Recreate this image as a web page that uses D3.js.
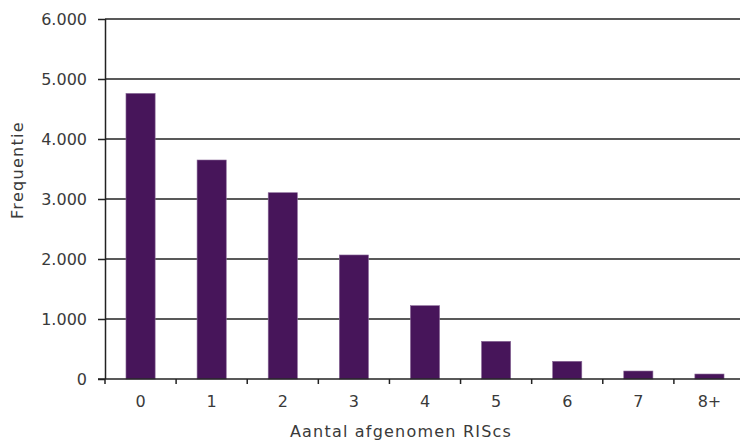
<!DOCTYPE html>
<html><head><meta charset="utf-8">
<script src="https://cdn.jsdelivr.net/npm/d3@7"></script>
<style>body{margin:0;background:#fff}svg{display:block}</style>
</head><body>
<script>
const categories = ["0","1","2","3","4","5","6","7","8+"];
const values = [4760, 3650, 3105, 2067, 1222, 628, 295, 133, 83];
const yTicks = [0,1000,2000,3000,4000,5000,6000];
const yTickLabels = ["0","1.000","2.000","3.000","4.000","5.000","6.000"];
const xTitle = "Aantal afgenomen RIScs";
const yTitle = "Frequentie";

const W = 740, H = 442;
const m = {left:105, top:19, right:-5, bottom:63};
const svg = d3.select("body").append("svg").attr("width",W).attr("height",H);
const font = "DejaVu Sans, Verdana, sans-serif";
const x = d3.scaleBand().domain(categories).range([m.left, W - m.right]).paddingInner(0.59).paddingOuter(0.295);
const xTickScale = d3.scaleLinear().domain([0, categories.length]).range([m.left, W - m.right]);
const y = d3.scaleLinear().domain([0,6000]).range([H - m.bottom, m.top]);

// gridlines
svg.append("g").selectAll("line").data(yTicks.filter(d=>d>0)).join("line")
  .attr("x1", m.left).attr("x2", W).attr("y1", d=>y(d)).attr("y2", d=>y(d))
  .attr("stroke","#222").attr("stroke-width",1.5);

// bars
svg.append("g").selectAll("rect").data(values).join("rect")
  .attr("x",(d,i)=>x(categories[i])).attr("width",x.bandwidth())
  .attr("y",d=>y(d)).attr("height",d=>y(0)-y(d))
  .attr("fill","#47155a").attr("stroke","#8a6a98").attr("stroke-width",0.6);

// y axis
const ya = svg.append("g").attr("transform",`translate(${m.left},0)`)
  .call(d3.axisLeft(y).tickValues(yTicks).tickFormat((d,i)=>yTickLabels[i]).tickSize(7).tickPadding(11));
ya.select(".domain").attr("stroke","#222").attr("stroke-width",1.5).attr("d",`M0.5,${y(6000)}V${y(0)}`);
ya.selectAll(".tick line").attr("stroke","#222").attr("stroke-width",1.5);
ya.selectAll("text").attr("font-family",font).attr("font-size",16).attr("fill","#3a3a3a");

// x axis
const xa = svg.append("g").attr("transform",`translate(0,${y(0)})`);
xa.append("line").attr("x1",m.left-7).attr("x2",W).attr("y1",0).attr("y2",0).attr("stroke","#222").attr("stroke-width",1.5);
xa.selectAll("line.t").data(d3.range(categories.length+1)).join("line").attr("class","t")
  .attr("x1",d=>xTickScale(d)).attr("x2",d=>xTickScale(d)).attr("y1",0).attr("y2",5)
  .attr("stroke","#222").attr("stroke-width",1.5);
xa.selectAll("text").data(categories).join("text")
  .attr("x",d=>x(d)+x.bandwidth()/2).attr("y",28).attr("text-anchor","middle")
  .attr("font-family",font).attr("font-size",16).attr("fill","#3a3a3a").text(d=>d);

svg.append("text").attr("x",401).attr("y",437).attr("text-anchor","middle")
  .attr("font-family",font).attr("font-size",16).attr("letter-spacing","1.2px").attr("fill","#3a3a3a").text(xTitle);
svg.append("text").attr("transform","translate(23,170) rotate(-90)").attr("text-anchor","middle")
  .attr("font-family",font).attr("font-size",16).attr("letter-spacing","1.3px").attr("fill","#3a3a3a").text(yTitle);
</script>
</body></html>
